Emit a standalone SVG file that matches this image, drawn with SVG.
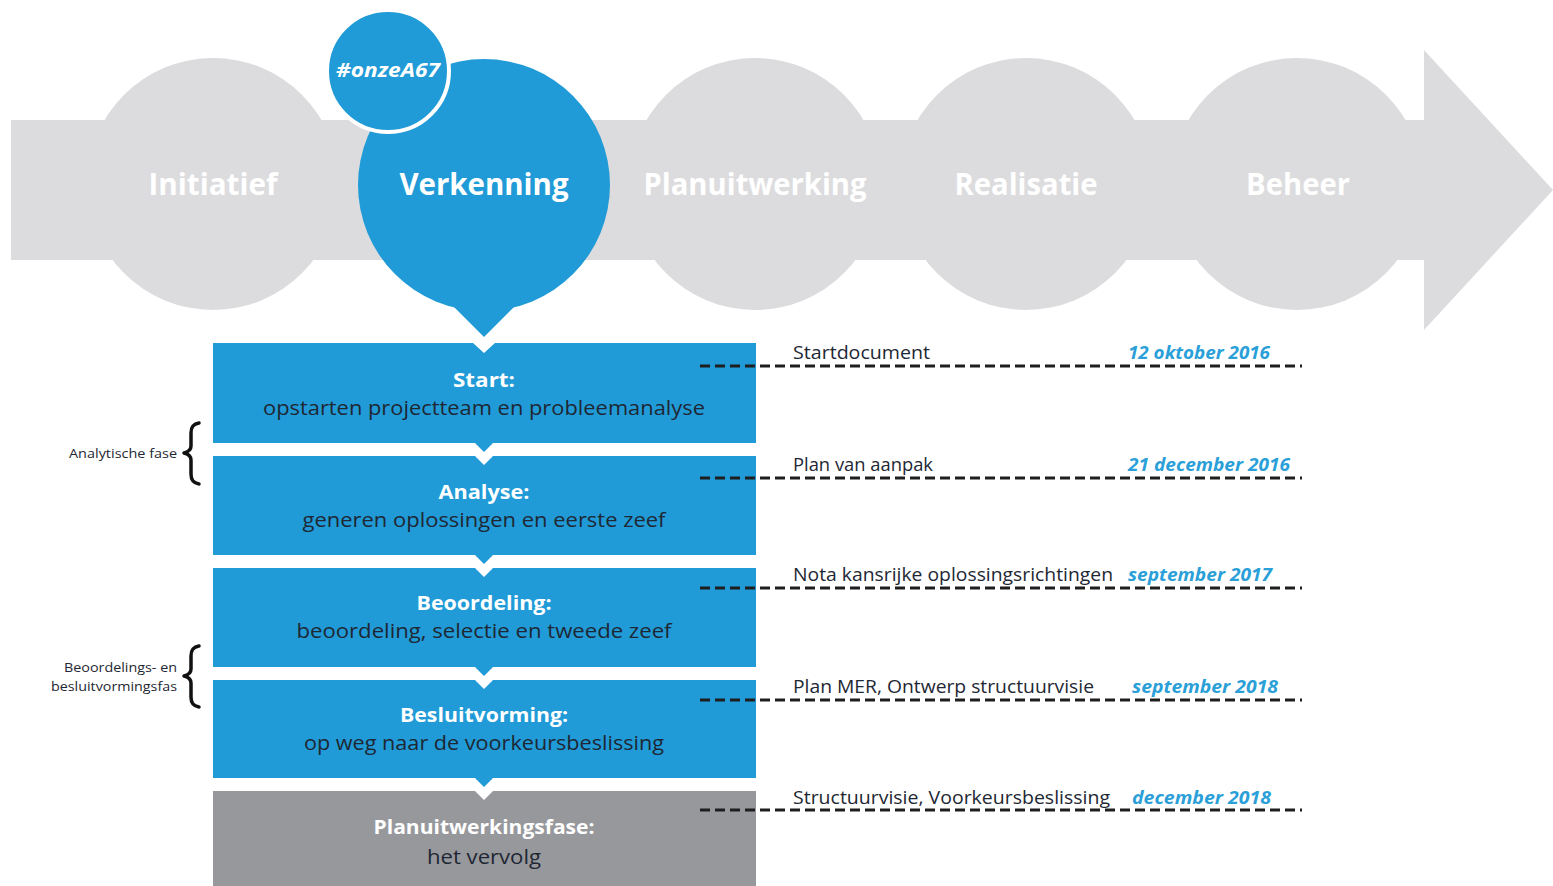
<svg xmlns="http://www.w3.org/2000/svg" width="1553" height="886" viewBox="0 0 1553 886">
<style>
.band{fill:#dcdcde}
.blue{fill:#219bd7}
.gray{fill:#97989c}
.phase{font-family:"Open Sans","Noto Sans",sans-serif;font-weight:700;font-size:30px;fill:#ffffff;text-anchor:middle}
.title{font-family:"Open Sans","Noto Sans",sans-serif;font-weight:700;font-size:20px;fill:#ffffff;text-anchor:middle}
.body{font-family:"Open Sans","Noto Sans",sans-serif;font-size:20px;fill:#1e2733;text-anchor:middle}
.lbl{font-family:"Open Sans","Noto Sans",sans-serif;font-size:18px;fill:#1e2733}
.date{font-family:"Open Sans","Noto Sans",sans-serif;font-size:18px;font-weight:700;font-style:italic;fill:#2a9fd8}
.side{font-family:"Open Sans","Noto Sans",sans-serif;font-size:13px;fill:#1e2733;text-anchor:end}
.dash{stroke:#1e1e1e;stroke-width:3;stroke-dasharray:10 5;fill:none}
.brace{stroke:#111;stroke-width:3.5;fill:none;stroke-linecap:round;stroke-linejoin:round}
</style>
<rect width="1553" height="886" fill="#ffffff"/>
<g id="band">
<rect class="band" x="11" y="120" width="1414" height="140"/>
<polygon class="band" points="1424,50 1553,190 1424,330"/>
</g>
<g id="initiatief">
<circle class="band" cx="213" cy="184" r="126"/>
<text class="phase" x="213" y="195" textLength="129" lengthAdjust="spacingAndGlyphs">Initiatief</text>
</g>
<g id="planuitwerking">
<circle class="band" cx="755" cy="184" r="126"/>
<text class="phase" x="755" y="195" textLength="223" lengthAdjust="spacingAndGlyphs">Planuitwerking</text>
</g>
<g id="realisatie">
<circle class="band" cx="1026" cy="184" r="126"/>
<text class="phase" x="1026" y="195" textLength="143" lengthAdjust="spacingAndGlyphs">Realisatie</text>
</g>
<g id="beheer">
<circle class="band" cx="1297" cy="184" r="126"/>
<text class="phase" x="1298" y="195" textLength="104" lengthAdjust="spacingAndGlyphs">Beheer</text>
</g>
<g id="verkenning">
<circle class="blue" cx="484" cy="185" r="126"/>
<polygon class="blue" points="447,300 484,337 521,300"/>
<text class="phase" x="484" y="195" textLength="169" lengthAdjust="spacingAndGlyphs">Verkenning</text>
</g>
<g id="hashtag">
<circle class="blue" cx="388" cy="71" r="61" stroke="#ffffff" stroke-width="4"/>
<text x="388" y="77" font-family="Open Sans, Noto Sans, sans-serif" font-size="20" font-weight="700" font-style="italic" fill="#ffffff" text-anchor="middle" textLength="104" lengthAdjust="spacingAndGlyphs">#onzeA67</text>
</g>
<g id="start">
<path class="blue" d="M213,343 H473 L484,353 L495,343 H756 V443 H493 L484,452 L475,443 H213 Z"/>
<text class="title" x="484" y="387" textLength="62" lengthAdjust="spacingAndGlyphs">Start:</text>
<text class="body" x="484" y="415" textLength="442" lengthAdjust="spacingAndGlyphs">opstarten projectteam en probleemanalyse</text>
</g>
<g id="analyse">
<path class="blue" d="M213,456 H475 L484,465 L493,456 H756 V555 H493 L484,564 L475,555 H213 Z"/>
<text class="title" x="484" y="499" textLength="91" lengthAdjust="spacingAndGlyphs">Analyse:</text>
<text class="body" x="484" y="527" textLength="363" lengthAdjust="spacingAndGlyphs">generen oplossingen en eerste zeef</text>
</g>
<g id="beoordeling">
<path class="blue" d="M213,568 H475 L484,577 L493,568 H756 V667 H493 L484,676 L475,667 H213 Z"/>
<text class="title" x="484" y="610" textLength="135" lengthAdjust="spacingAndGlyphs">Beoordeling:</text>
<text class="body" x="484" y="638" textLength="375" lengthAdjust="spacingAndGlyphs">beoordeling, selectie en tweede zeef</text>
</g>
<g id="besluitvorming">
<path class="blue" d="M213,680 H475 L484,689 L493,680 H756 V778 H493 L484,787 L475,778 H213 Z"/>
<text class="title" x="484" y="722" textLength="168" lengthAdjust="spacingAndGlyphs">Besluitvorming:</text>
<text class="body" x="484" y="750" textLength="360" lengthAdjust="spacingAndGlyphs">op weg naar de voorkeursbeslissing</text>
</g>
<g id="planuitwerkingsfase">
<path class="gray" d="M213,791 H475 L484,800 L493,791 H756 V890 H213 Z"/>
<text class="title" x="484" y="834" textLength="221" lengthAdjust="spacingAndGlyphs">Planuitwerkingsfase:</text>
<text class="body" x="484" y="864" textLength="114" lengthAdjust="spacingAndGlyphs">het vervolg</text>
</g>
<g id="connectors">
<line class="dash" x1="700" y1="366" x2="1302" y2="366"/>
<line class="dash" x1="700" y1="478" x2="1302" y2="478"/>
<line class="dash" x1="700" y1="588" x2="1302" y2="588"/>
<line class="dash" x1="700" y1="700" x2="1302" y2="700"/>
<line class="dash" x1="700" y1="810" x2="1302" y2="810"/>
</g>
<g id="milestones">
<text class="lbl" x="793" y="359" textLength="137" lengthAdjust="spacingAndGlyphs">Startdocument</text>
<text class="date" x="1128" y="359" textLength="142" lengthAdjust="spacingAndGlyphs">12 oktober 2016</text>
<text class="lbl" x="793" y="471" textLength="140" lengthAdjust="spacingAndGlyphs">Plan van aanpak</text>
<text class="date" x="1128" y="471" textLength="162" lengthAdjust="spacingAndGlyphs">21 december 2016</text>
<text class="lbl" x="793" y="581" textLength="320" lengthAdjust="spacingAndGlyphs">Nota kansrijke oplossingsrichtingen</text>
<text class="date" x="1128" y="581" textLength="144" lengthAdjust="spacingAndGlyphs">september 2017</text>
<text class="lbl" x="793" y="693" textLength="301" lengthAdjust="spacingAndGlyphs">Plan MER, Ontwerp structuurvisie</text>
<text class="date" x="1132" y="693" textLength="146" lengthAdjust="spacingAndGlyphs">september 2018</text>
<text class="lbl" x="793" y="804" textLength="317" lengthAdjust="spacingAndGlyphs">Structuurvisie, Voorkeursbeslissing</text>
<text class="date" x="1132" y="804" textLength="139" lengthAdjust="spacingAndGlyphs">december 2018</text>
</g>
<g id="analytische-fase">
<path class="brace" d="M199,423 C193,424 191,427 191,433 L191,446 C191,450 188,452 184,453 C188,454 191,456 191,460 L191,474 C191,480 193,483 199,484"/>
<text class="side" x="177" y="458" textLength="108" lengthAdjust="spacingAndGlyphs">Analytische fase</text>
</g>
<g id="beoordelings-fase">
<path class="brace" d="M199,646 C193,647 191,650 191,656 L191,669 C191,673 188,675 184,676 C188,677 191,679 191,683 L191,697 C191,703 193,706 199,707"/>
<text class="side" x="177" y="672" textLength="113" lengthAdjust="spacingAndGlyphs">Beoordelings- en</text>
<text class="side" x="177" y="691" textLength="126" lengthAdjust="spacingAndGlyphs">besluitvormingsfas</text>
</g>
</svg>
